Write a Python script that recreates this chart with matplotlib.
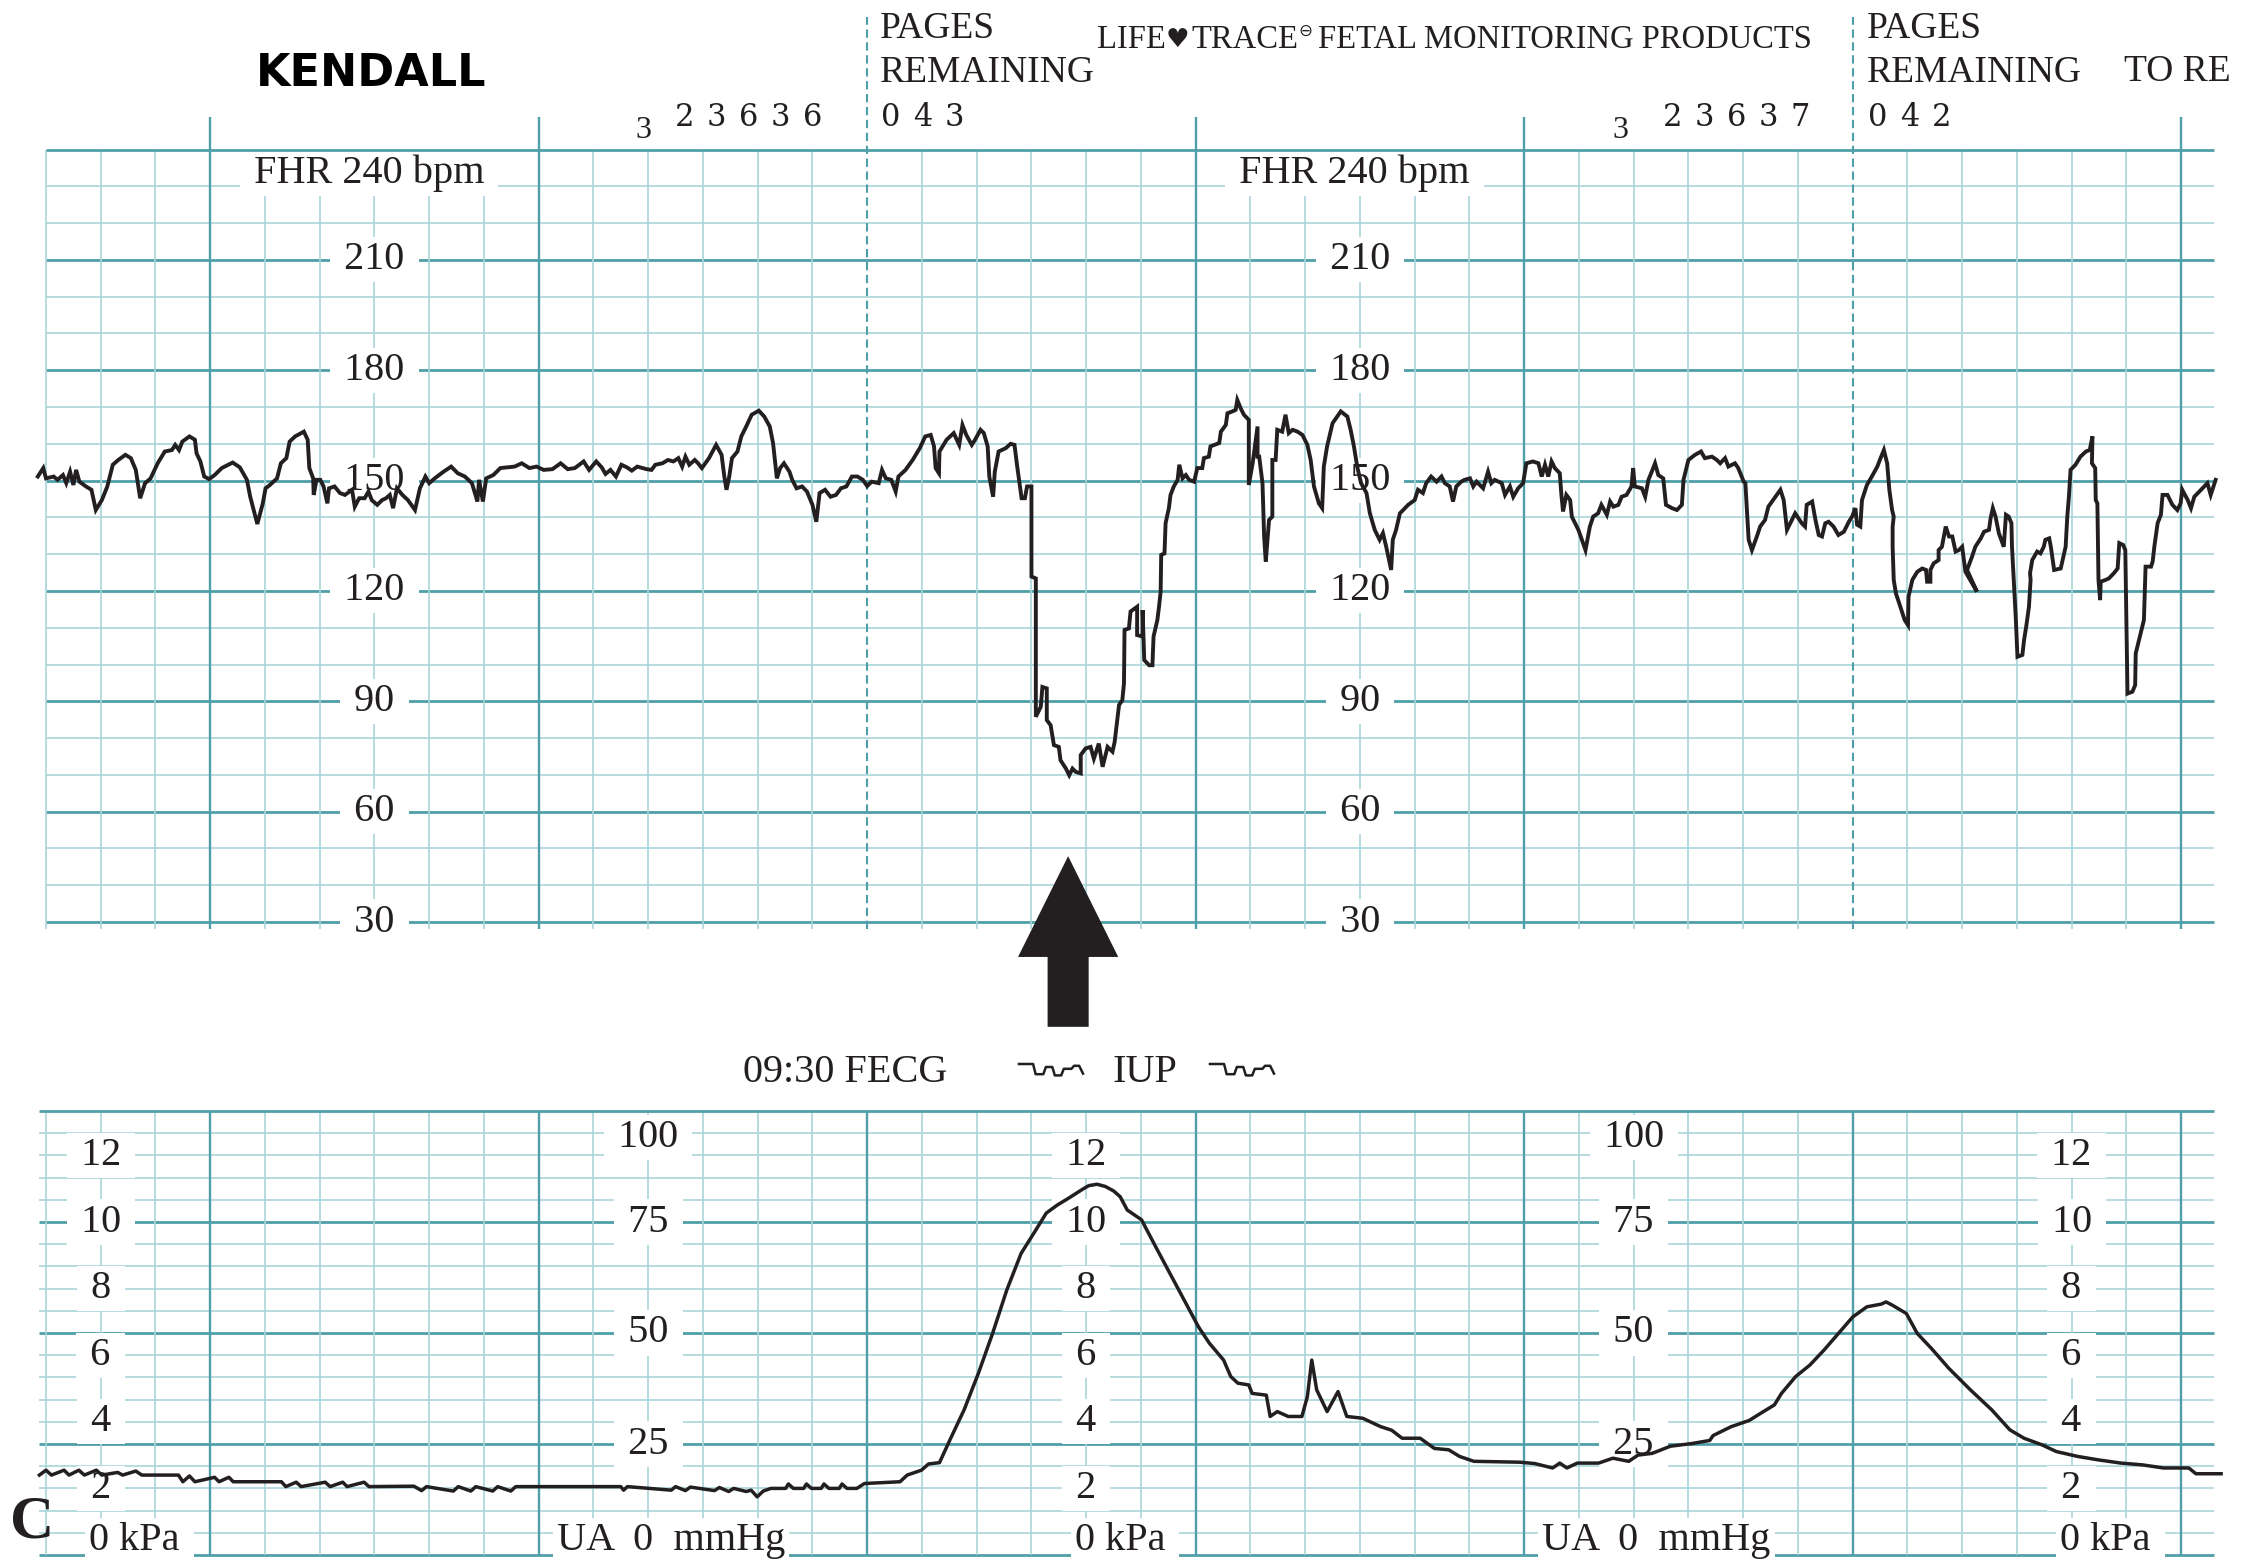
import matplotlib.pyplot as plt
from matplotlib.lines import Line2D

# serif text like the printed strip, DejaVu as fallback for the odd symbols
plt.rcParams['font.family'] = ['Liberation Serif', 'DejaVu Sans']

W, H = 2241, 1566          # output size in pixels (dpi 100)

# === data: fetal heart rate (time in s from left edge of page, bpm) ===
fhr_time_s = [
    -1.5, -0.5, 0.0, 1.4, 2.1, 3.1, 3.7, 4.4, 5.0, 5.5,
    6.1, 7.3, 8.3, 9.1, 10.2, 11.2, 12.2, 13.2, 14.5, 15.5,
    16.4, 17.2, 18.1, 19.1, 20.4, 21.7, 23.0, 23.6, 24.3, 24.9,
    26.2, 27.2, 27.5, 28.2, 28.9, 29.8, 30.8, 32.1, 34.1, 35.4,
    36.7, 37.3, 38.6, 39.6, 40.1, 40.9, 42.2, 42.9, 43.9, 44.5,
    45.5, 47.1, 47.8, 48.1, 48.8, 48.9, 49.4, 50.1, 50.7, 51.4,
    51.7, 52.7, 53.7, 54.6, 55.9, 56.4, 57.2, 58.2, 58.9, 59.5,
    60.5, 61.4, 62.1, 62.8, 63.4, 64.1, 65.1, 66.1, 67.4, 68.3,
    69.3, 70.0, 71.0, 72.6, 74.0, 75.2, 76.5, 77.8, 78.8, 79.1,
    79.8, 80.4, 81.7, 83.0, 84.3, 85.6, 86.9, 88.3, 89.6, 90.9,
    92.5,
    94.0, 95.3, 96.6, 98.2, 99.2, 100.5, 101.5, 102.2, 103.1, 104.1,
    105.1, 106.1, 107.0, 108.0, 109.7, 110.6, 111.3, 112.6, 113.6, 114.6,
    115.5, 116.2, 116.8, 117.5, 118.5, 119.1, 119.8, 121.1, 122.4, 123.4,
    123.9, 124.3, 124.8, 125.3, 126.3, 127.0, 127.9, 128.9, 130.2, 131.2,
    132.2, 132.8, 133.5, 134.1, 134.8, 135.8, 136.3, 137.1, 138.1, 139.0,
    140.0, 140.7, 141.3, 142.3, 143.3, 144.3, 145.2, 146.2, 147.2, 148.2,
    149.2, 150.0, 150.8, 152.1, 152.7, 153.4, 154.4, 155.2, 155.7, 157.0,
    158.3, 159.6, 160.6, 161.6, 162.2, 162.5, 163.1, 163.2, 164.5, 165.8,
    166.8, 167.4, 168.1, 169.1, 169.7, 170.7, 171.3, 172.0, 172.3, 173.0,
    173.3, 174.0, 175.3, 176.2, 176.9, 177.4, 177.9, 178.2, 178.8, 179.2,
    180.0, 180.0, 180.8,
    180.8, 181.7, 182.0, 182.8, 182.8, 183.5, 184.1, 185.0, 185.3, 186.3,
    186.9, 187.5, 188.1, 189.0, 189.0, 189.9, 190.8, 191.4, 192.3, 193.0,
    193.9, 194.8, 195.2, 196.0, 196.6, 196.9, 197.0, 197.8, 198.1, 199.3,
    199.3, 200.3, 200.3, 200.6, 201.5, 202.1, 202.3, 203.0, 203.3, 203.6,
    203.7, 204.3, 204.5, 205.1, 205.4, 206.0, 206.7, 207.0, 207.6, 208.2,
    208.8, 209.7, 210.3, 211.2, 211.5, 212.4, 212.7, 214.3, 214.6, 215.5,
    215.8, 216.7, 217.3, 217.6, 218.2, 218.8, 219.7, 219.7, 220.4, 221.3,
    221.3, 221.6, 222.2, 222.5, 222.8, 223.4, 224.0, 224.0, 224.6, 224.9,
    225.8, 226.4, 227.0, 227.7, 228.6, 229.5, 230.4, 231.0, 231.6, 232.5,
    233.1, 233.4, 234.0, 235.0, 236.5, 237.7, 238.3, 238.9, 239.5,
    240.2, 241.2, 241.8, 242.7, 243.6, 244.2, 244.8, 245.7, 246.0, 246.6,
    247.3, 247.9, 248.8, 250.0, 250.6, 251.5, 252.1, 253.0, 254.0, 254.9,
    255.5, 256.4, 257.0, 257.6, 258.5, 259.1, 260.1, 260.7, 261.3, 262.5,
    263.4, 264.0, 264.6, 265.9, 266.5, 267.4, 268.0, 268.9, 269.8, 270.4,
    271.6, 272.6, 273.2, 273.8, 274.4, 275.0, 275.6, 276.5, 276.8, 277.1,
    277.7, 278.4, 278.7, 279.9, 281.2, 282.0, 282.6, 283.5, 284.1, 285.1,
    285.7, 286.3, 287.2, 287.8, 288.7, 289.6, 289.9, 290.2, 291.5, 292.1,
    292.7, 293.3, 293.9, 294.5, 295.4, 295.9, 297.0, 297.9, 298.8, 299.1,
    300.0, 301.2, 302.3, 303.0, 304.3, 305.2, 305.8, 306.7, 307.3, 308.5,
    309.1, 310.1, 310.4, 311.0, 311.6, 312.5, 313.1, 314.0, 314.6, 315.9,
    316.8, 317.4, 318.0, 318.6, 319.5, 320.7,
    321.3, 321.6, 322.6, 323.2, 323.8, 324.4, 325.0, 325.6, 326.5, 327.4,
    328.4, 329.3, 329.9, 330.5, 330.8, 331.4, 331.7, 332.6, 333.5, 334.5,
    335.1, 335.7, 336.3, 336.7, 337.2, 337.5, 337.3, 337.3, 337.5, 337.9,
    338.4, 339.1, 339.5, 340.1, 340.2, 340.9, 341.8, 342.7, 343.4, 343.6,
    344.2, 344.2, 344.8, 345.7, 345.7, 346.3, 347.0, 347.6, 348.2, 348.8,
    349.4, 350.0, 350.6, 352.7, 350.9, 351.8, 352.4, 353.4, 354.0, 354.9,
    355.2, 355.6, 356.1, 356.7, 357.6, 358.0, 358.5, 359.0, 359.1, 359.8,
    360.1, 361.0, 361.3, 361.7, 362.2, 362.5, 362.4, 362.8, 363.7, 364.3,
    364.9, 365.2, 365.9, 366.2, 366.8, 368.0, 368.9, 369.2, 369.5, 369.8,
    370.7, 371.6, 372.6, 373.3, 373.8, 373.7, 374.3, 374.4, 374.7, 374.9,
    375.2, 375.3, 376.2, 376.8, 377.7, 378.4, 378.7, 379.4, 379.8, 380.2,
    381.1, 381.6, 381.7, 382.6, 383.2, 383.5, 384.5, 384.8, 385.1, 385.7,
    386.3, 386.6, 387.5, 388.4, 389.3, 389.9, 390.2, 391.2, 391.8, 392.4,
    393.9, 394.8, 395.4, 396.3,
]
fhr_bpm = [
    151.1, 153.4, 150.6, 151.1, 150.2, 151.5, 149.3, 152.4, 148.8, 152.9,
    149.7, 148.4, 147.5, 142.0, 144.7, 148.4, 154.3, 155.6, 157.0, 156.1,
    152.9, 145.2, 149.3, 150.6, 154.7, 157.9, 158.3, 159.7, 158.3, 160.6,
    162.0, 161.1, 157.4, 155.2, 151.1, 150.4, 151.5, 153.4, 154.9, 153.6,
    150.2, 145.6, 138.2, 143.8, 147.9, 148.8, 150.6, 154.7, 156.1, 160.6,
    162.0, 163.3, 161.1, 153.4, 150.6, 146.1, 150.2, 150.2, 148.4, 143.8,
    147.9, 148.4, 146.6, 146.1, 147.5, 142.9, 145.2, 145.2, 147.0, 144.7,
    143.4, 144.7, 145.2, 146.1, 142.5, 147.9, 146.1, 144.7, 142.0, 147.9,
    151.1, 149.3, 150.6, 152.4, 153.8, 152.0, 151.1, 149.3, 144.3, 150.2,
    144.3, 150.6, 151.5, 153.4, 153.6, 153.8, 154.7, 153.4, 153.8, 152.9,
    153.1,
    154.7, 153.1, 153.4, 155.2, 152.9, 155.2, 153.6, 151.8, 152.9, 151.1,
    154.3, 153.6, 152.7, 153.8, 153.1, 152.9, 154.3, 154.7, 155.6, 155.2,
    156.1, 153.8, 156.5, 154.3, 155.6, 154.7, 153.4, 156.1, 159.7, 157.0,
    151.1, 147.5, 151.1, 156.1, 157.9, 162.0, 164.7, 167.9, 169.0, 167.4,
    164.7, 160.2, 150.6, 153.4, 154.7, 152.4, 150.2, 147.9, 148.4, 147.0,
    143.4, 138.8, 146.6, 147.5, 145.6, 146.1, 147.9, 148.4, 151.1, 151.1,
    150.2, 148.5, 149.7, 149.3, 152.9, 150.6, 150.2, 147.0, 151.1, 152.9,
    155.6, 158.8, 162.0, 162.4, 159.3, 153.4, 152.0, 157.9, 161.1, 162.9,
    159.7, 165.1, 162.4, 159.7, 161.1, 163.8, 162.9, 159.3, 151.1, 145.6,
    152.4, 157.9, 158.8, 160.0, 159.7, 153.8, 148.4, 145.2, 145.2, 148.4,
    148.4, 123.9, 123.4,
    85.8, 88.5, 93.9, 93.5, 84.9, 83.5, 78.1, 77.6, 74.0, 71.7,
    69.9, 71.7, 70.8, 70.4, 75.4, 77.2, 77.6, 74.4, 78.5, 72.2,
    77.6, 76.3, 79.0, 89.0, 90.3, 94.9, 109.4, 109.8, 114.4, 115.7,
    108.0, 107.6, 114.8, 101.2, 99.8, 99.8, 107.6, 112.1, 115.7, 119.8,
    129.8, 130.2, 138.4, 142.5, 146.1, 148.4, 150.2, 154.3, 150.6, 151.5,
    150.2, 149.7, 153.4, 153.4, 156.1, 156.5, 159.3, 160.2, 163.3, 165.1,
    168.3, 168.8, 169.2, 171.9, 169.7, 167.9, 166.5, 148.8, 154.7, 164.7,
    156.5, 156.5, 149.3, 134.8, 128.0, 139.3, 140.2, 155.6, 155.6, 163.8,
    163.3, 167.9, 162.9, 163.8, 163.3, 162.4, 159.7, 155.6, 148.4, 143.8,
    142.5, 153.8, 159.3, 165.6, 168.8, 167.4, 163.8, 159.3, 153.8,
    149.3, 146.6, 141.2, 136.6, 133.9, 135.7, 132.0, 125.7, 133.9, 136.6,
    141.1, 142.0, 143.4, 144.7, 147.5, 146.6, 149.3, 151.1, 149.7, 151.1,
    149.3, 148.4, 144.3, 148.4, 149.7, 150.2, 150.6, 148.4, 149.7, 147.9,
    152.4, 149.3, 150.2, 149.3, 146.1, 148.4, 145.6, 147.9, 149.3, 154.7,
    155.2, 154.7, 151.1, 154.3, 151.1, 155.2, 153.4, 152.0, 146.1, 141.6,
    146.1, 144.7, 140.2, 136.6, 131.1, 137.5, 140.2, 141.1, 143.4, 140.7,
    144.3, 142.9, 143.4, 145.6, 146.1, 148.4, 153.4, 148.4, 147.9, 145.6,
    150.2, 152.4, 154.7, 151.5, 150.6, 143.4, 142.5, 142.0, 143.4, 150.2,
    155.6, 157.0, 157.9, 156.1, 156.5, 155.6, 154.7, 156.1, 153.8, 154.7,
    153.4, 149.7, 149.3, 133.9, 131.1, 134.8, 137.5, 139.3, 142.9, 145.6,
    147.5, 144.7, 136.6, 138.4, 141.1, 138.4,
    137.5, 143.4, 144.3, 139.3, 135.2, 134.8, 138.4, 138.8, 137.5, 135.2,
    136.1, 138.8, 140.2, 142.5, 138.0, 137.5, 144.7, 148.8, 151.1, 153.8,
    156.1, 158.3, 154.7, 147.5, 142.0, 140.2, 137.5, 132.0, 123.0, 119.3,
    117.1, 113.9, 112.1, 110.7, 118.4, 123.0, 125.2, 126.1, 125.7, 122.5,
    122.5, 125.7, 127.5, 128.4, 131.1, 132.0, 137.5, 134.8, 134.8, 130.7,
    131.1, 132.0, 125.2, 119.8, 125.7, 129.3, 132.0, 134.3, 136.1, 136.6,
    139.8, 142.5, 140.2, 135.7, 132.0, 140.7, 140.2, 138.4, 132.0, 112.5,
    102.1, 102.6, 106.6, 110.3, 115.7, 123.0, 124.8, 128.4, 130.7, 130.2,
    132.0, 133.9, 134.3, 132.0, 125.7, 126.1, 132.0, 140.2, 145.6, 152.9,
    154.3, 156.5, 157.9, 158.3, 162.0, 154.7, 153.4, 144.7, 143.8, 123.0,
    117.5, 122.5, 123.0, 123.4, 124.8, 126.1, 133.0, 132.5, 131.1, 92.1,
    92.6, 94.4, 103.0, 108.5, 112.1, 126.6, 126.6, 128.0, 132.0, 138.4,
    140.7, 146.1, 146.1, 143.4, 142.0, 143.8, 147.5, 144.7, 142.5, 145.6,
    147.9, 149.3, 146.1, 150.2,
]

# === data: uterine activity (time in s, mmHg) ===
ua_time_s = [
    -1.2, 0.0, 1.0, 3.3, 4.2, 6.0, 7.0, 9.2, 10.2, 13.1,
    14.0, 16.4, 17.5, 24.2, 25.0, 26.2, 27.2, 30.8, 31.6, 33.4,
    34.2, 43.0, 43.8, 45.7, 46.6, 51.0, 51.9, 54.2, 55.0, 58.1,
    59.0, 67.2, 68.6, 69.5, 74.4, 75.3, 77.6, 78.5, 81.6, 82.5,
    84.9, 85.8, 105.0, 105.5, 106.2, 114.2, 115.0, 116.8, 117.7, 122.1,
    123.0, 124.7, 125.6, 127.9, 128.8, 129.9, 131.0, 132.4, 135.1, 135.6,
    136.5, 138.4, 138.9, 139.8, 141.6, 142.1, 143.0, 144.9, 145.4, 146.3,
    148.1, 149.5, 156.0, 157.3, 159.9, 161.2, 163.2, 165.1, 167.7, 170.3,
    172.9, 175.5, 178.1, 180.8, 182.7, 184.7, 186.7, 188.6, 189.5, 190.5,
    192.0, 193.5, 195.0, 196.2, 197.5, 200.1, 202.7, 205.3, 207.9, 210.5,
    212.5, 215.1, 216.4, 217.7, 219.7, 220.3, 222.9, 223.6, 224.9, 226.9,
    229.4, 230.4, 231.2, 232.1, 234.0, 236.0, 237.6, 240.5, 243.8, 245.8,
    247.7, 251.0, 253.6, 256.2, 258.2, 260.8, 269.2, 271.9, 275.2, 276.5,
    277.8, 279.7, 283.6, 286.2, 289.1, 290.8, 293.4, 296.7, 300.6, 303.9,
    304.5, 307.8, 311.1, 313.7, 315.7, 317.0, 319.6, 322.2, 324.8, 327.4,
    330.0, 332.6, 335.2, 336.1, 337.2, 339.8, 341.8, 344.4, 347.6, 351.5,
    355.4, 358.7, 361.3, 364.6, 367.2, 371.1, 375.0, 379.0, 382.9, 386.8,
    391.4, 392.7, 397.3,
]
ua_mmhg = [
    18.0, 19.1, 18.0, 19.1, 18.0, 19.1, 18.0, 19.1, 18.0, 18.6,
    18.0, 18.9, 18.0, 18.0, 16.5, 17.8, 16.5, 17.5, 16.5, 17.5,
    16.5, 16.5, 15.4, 16.4, 15.4, 16.4, 15.4, 16.4, 15.4, 16.4,
    15.4, 15.5, 14.5, 15.4, 14.4, 15.4, 14.4, 15.4, 14.4, 15.4,
    14.4, 15.4, 15.4, 14.6, 15.4, 14.6, 15.4, 14.5, 15.3, 14.5,
    15.2, 14.3, 15.0, 14.3, 14.6, 13.1, 14.4, 15.0, 15.0, 16.0,
    15.0, 15.0, 16.0, 15.0, 15.0, 16.0, 15.0, 15.0, 16.0, 15.0,
    15.0, 16.1, 16.5, 18.0, 19.1, 20.5, 20.8, 25.9, 32.7, 40.9,
    49.9, 59.7, 67.9, 73.2, 77.0, 78.8, 80.3, 81.8, 82.5, 83.2,
    83.5, 83.0, 82.0, 80.7, 77.7, 75.5, 69.4, 63.4, 57.4, 51.4,
    47.7, 43.9, 40.2, 38.7, 38.3, 36.4, 36.0, 31.2, 32.3, 31.2,
    31.2, 35.7, 43.9, 37.2, 32.3, 36.8, 31.2, 30.8, 28.9, 28.1,
    26.3, 26.3, 24.0, 23.7, 22.2, 21.1, 20.9, 20.6, 19.6, 20.7,
    19.6, 20.7, 20.7, 21.8, 21.1, 22.5, 22.9, 24.5, 25.1, 25.8,
    26.9, 28.9, 30.3, 32.3, 33.8, 36.4, 40.2, 42.8, 46.2, 49.9,
    53.6, 55.9, 56.5, 57.0, 56.3, 54.4, 49.9, 46.5, 42.0, 37.2,
    32.7, 28.2, 26.3, 24.8, 23.3, 22.2, 21.4, 20.7, 20.3, 19.6,
    19.6, 18.3, 18.3,
]

# scale labels
fhr_labels = [210, 180, 150, 120, 90, 60, 30]
fhr_label_cols = [60, 240]
kpa_labels = [12, 10, 8, 6, 4, 2]
kpa_label_cols = [10, 190, 370]
mmhg_labels = [100, 75, 50, 25]
mmhg_label_cols = [110, 290]
arrow_time_s = 186.7

GRID_DARK = '#4f9fa8'
GRID_LIGHT = '#a8d5da'
INK = '#231f20'
FS = 29
PAGE_END = 396


def fx(x):
    return x / W


def fy(y):
    return 1 - y / H


fig = plt.figure(figsize=(W / 100, H / 100), dpi=100)
fig.patch.set_facecolor('white')

ax_fhr = fig.add_axes([46 / W, 1 - 922 / H, 2168 / W, 772.5 / H])
ax_ua = fig.add_axes([46 / W, 1 - 1555 / H, 2168 / W, 444 / H])
for ax in (ax_fhr, ax_ua):
    ax.set_xlim(0, PAGE_END)
    ax.axis('off')
ax_fhr.set_ylim(30, 240)
ax_ua.set_ylim(0, 100)

# === FHR grid ===
for v in range(30, 241, 10):
    major = v % 30 == 0
    ax_fhr.hlines(v, 0, PAGE_END, color=GRID_DARK if major else GRID_LIGHT,
                  lw=2.0 if major else 1.2, clip_on=False,
                  zorder=3 if v == 240 else 1)
for t in range(0, 391, 10):
    if t in (150, 330):
        ax_fhr.vlines(t, 28.1, 276, color=GRID_DARK, lw=1.5,
                      linestyles=(0, (4, 2.2)), clip_on=False, zorder=1)
    elif (t - 30) % 60 == 0:
        ax_fhr.vlines(t, 28.1, 248.8, color=GRID_DARK, lw=1.7, clip_on=False, zorder=1)
    else:
        ax_fhr.vlines(t, 28.1, 240, color=GRID_LIGHT, lw=1.2, clip_on=False, zorder=1)

box = dict(fc='white', ec='none', boxstyle='square,pad=0.1')
for col in fhr_label_cols:
    for v in fhr_labels:
        ax_fhr.text(col, v, f' {v} ', ha='center', va='center', fontsize=FS,
                    color=INK, bbox=box, zorder=2)
    ax_fhr.text(col - 1, 233.6, ' FHR 240 bpm ', ha='center', va='center',
                fontsize=FS, color=INK, bbox=box, zorder=2)

ax_fhr.plot(fhr_time_s, fhr_bpm, color=INK, lw=2.8, clip_on=False, zorder=4,
            solid_joinstyle='miter')

# arrow under the deceleration
ax_fhr.arrow(arrow_time_s, 1.5, 0, 46.4, width=7.5, head_width=18.3,
             head_length=27.4, length_includes_head=True, fc=INK, ec='none',
             clip_on=False, zorder=5)

# === UA grid ===
for v in range(0, 101, 5):
    major = v % 25 == 0
    ax_ua.hlines(v, -1.3, PAGE_END, color=GRID_DARK if major else GRID_LIGHT,
                 lw=2.0 if major else 1.2, clip_on=False,
                 zorder=3 if v == 100 else 1)
for t in range(0, 391, 10):
    major = (t - 30) % 60 == 0
    ax_ua.vlines(t, 0, 100, color=GRID_DARK if major else GRID_LIGHT,
                 lw=1.7 if major else 1.2, clip_on=False, zorder=1)

for col in kpa_label_cols:
    for k in kpa_labels:
        ax_ua.text(col, k * 7.5, f' {k} ', ha='center', va='center', fontsize=FS,
                   color=INK, bbox=box, zorder=2)
    ax_ua.text(col - 2.1, 3.2, '0 kPa ', ha='left', va='center', fontsize=FS,
               color=INK, bbox=box, zorder=2)
for col in mmhg_label_cols:
    for m in mmhg_labels:
        ax_ua.text(col, 94 if m == 100 else m, f' {m} ', ha='center', va='center',
                   fontsize=FS, color=INK, bbox=box, zorder=2)
    ax_ua.text(col - 16.7, 3.2, 'UA  0  mmHg', ha='left', va='center', fontsize=FS,
               color=INK, bbox=box, zorder=2)

ax_ua.plot(ua_time_s, ua_mmhg, color=INK, lw=2.5, clip_on=False, zorder=4)

# === header text ===
fig.text(fx(371), fy(73), 'KENDALL', family='DejaVu Sans', fontweight='heavy',
         fontsize=32, ha='center', va='center', color='black')


def spaced(x_left, y, s, pitch=32, size=22):
    for i, ch in enumerate(s):
        fig.text(fx(x_left + i * pitch), fy(y), ch, family='DejaVu Serif',
                 fontsize=size, ha='left', va='center', color=INK)


for x_pages, num in ((880, '043'), (1867, '042')):
    fig.text(fx(x_pages), fy(29), 'PAGES', fontsize=27, ha='left', va='center', color=INK)
    fig.text(fx(x_pages), fy(73), 'REMAINING', fontsize=27, ha='left', va='center', color=INK)
    spaced(x_pages + 1, 118, num)
for x3, x_serial, serial in ((643, 675, '23636'), (1620, 1663, '23637')):
    fig.text(fx(x3), fy(130), '3', fontsize=23, ha='center', va='center', color=INK)
    spaced(x_serial, 118, serial)

fig.text(fx(1097), fy(40), 'LIFE', fontsize=23.5, ha='left', va='center', color=INK)
fig.text(fx(1177), fy(40), '\u2665', family='DejaVu Sans', fontsize=19,
         ha='center', va='center', color=INK)
fig.text(fx(1191), fy(40), 'TRACE', fontsize=23.5, ha='left', va='center', color=INK)
fig.text(fx(1305), fy(31), '\u2296', family='DejaVu Sans', fontsize=12,
         ha='center', va='center', color=INK)
fig.text(fx(1318), fy(40), 'FETAL MONITORING PRODUCTS', fontsize=23.5,
         ha='left', va='center', color=INK)
fig.text(fx(2124), fy(72), 'TO RE', fontsize=27, ha='left', va='center', color=INK)

# === middle annotation row ===
fig.text(fx(743), fy(1072), '09:30 FECG', fontsize=FS, ha='left', va='center', color=INK)
fig.text(fx(1112), fy(1072), 'IUP', fontsize=FS, ha='left', va='center', color=INK)
squig_u = [0.0, 0.22, 0.26, 0.38, 0.42, 0.52, 0.56, 0.66, 0.70, 0.82, 0.86, 0.94, 1.0]
squig_v = [1.0, 1.0, 0.15, 0.15, 0.75, 0.75, 0.05, 0.05, 0.6, 0.6, 0.85, 0.85, 0.2]
for x0 in (1019, 1210):
    fig.add_artist(Line2D([fx(x0 + u * 64) for u in squig_u],
                          [fy(1064 + (1 - v) * 12) for v in squig_v],
                          transform=fig.transFigure, color=INK, lw=1.8))

fig.text(fx(32), fy(1523), 'C', fontsize=44, fontweight='bold', ha='center',
         va='center', color=INK)

fig.savefig('out.png', dpi=100)
